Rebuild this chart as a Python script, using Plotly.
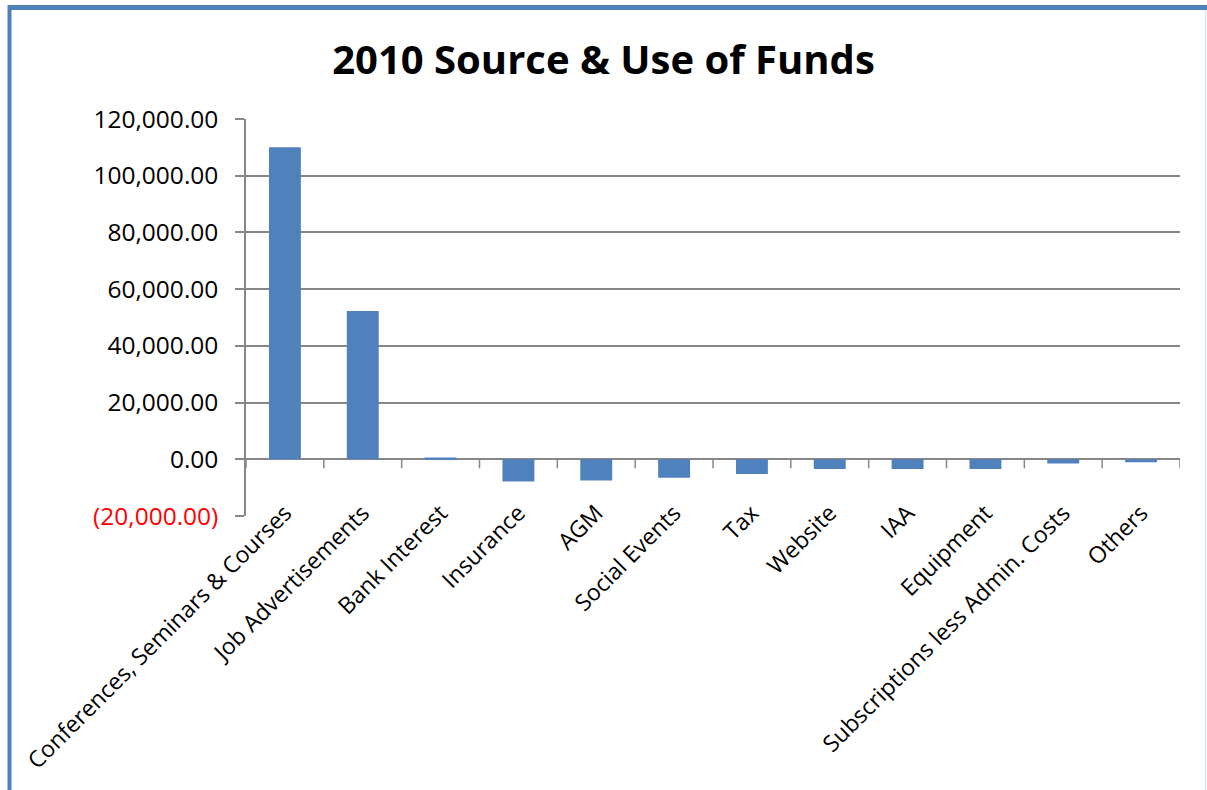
import plotly.graph_objects as go

categories = [
    "Conferences, Seminars & Courses",
    "Job Advertisements",
    "Bank Interest",
    "Insurance",
    "AGM",
    "Social Events",
    "Tax",
    "Website",
    "IAA",
    "Equipment",
    "Subscriptions less Admin. Costs",
    "Others",
]
amounts = [110000, 52300, 600, -7850, -7500, -6550, -5150, -3400, -3400, -3400, -1500, -1050]
y_ticks = [-20000, 0, 20000, 40000, 60000, 80000, 100000, 120000]

BLUE = "#4F81BD"
GRID = "#868686"
FONT = "Open Sans, Liberation Sans, sans-serif"

W, H = 1207, 790
L, R, T, B = 246, 27, 119, 274


def money(v):
    s = f"{abs(v):,.2f}"
    if v < 0:
        return f"<span style='color:#ff0000'>({s})</span>"
    return s


fig = go.Figure(
    go.Bar(
        x=list(range(len(categories))),
        y=amounts,
        marker=dict(color=BLUE, line=dict(width=0)),
        width=0.41,
    )
)


# pixel position -> paper fraction
def px_x(p):
    return (p - L) / (W - L - R)


def px_y(p):
    return (H - B - p) / (H - T - B)


shapes = []
# category tick marks hanging from the zero line
for i in range(len(categories) + 1):
    shapes.append(dict(
        type="line", xref="x", yref="y",
        x0=i - 0.5, x1=i - 0.5, y0=0, y1=-9,
        ysizemode="pixel", yanchor=0,
        line=dict(color=GRID, width=1.5),
    ))

# chart frame
shapes += [
    dict(type="line", xref="paper", yref="paper",
         x0=px_x(9.5), x1=px_x(9.5), y0=px_y(5), y1=px_y(800),
         line=dict(color=BLUE, width=4)),
    dict(type="line", xref="paper", yref="paper",
         x0=px_x(8), x1=px_x(1210), y0=px_y(7.5), y1=px_y(7.5),
         line=dict(color=BLUE, width=5)),
    dict(type="line", xref="paper", yref="paper",
         x0=px_x(1205.5), x1=px_x(1205.5), y0=px_y(10), y1=px_y(800),
         line=dict(color="#dde4ee", width=1.5)),
]

fig.update_layout(
    width=W, height=H,
    margin=dict(l=L, r=R, t=T, b=B),
    paper_bgcolor="white", plot_bgcolor="white",
    showlegend=False,
    bargap=0.59,
    font=dict(family=FONT, color="#000000"),
    title=dict(
        text="<b>2010 Source &amp; Use of Funds</b>",
        x=0.5, xref="container", xanchor="center",
        y=1 - 60 / H, yanchor="middle",
        font=dict(size=40, family=FONT, color="#000000"),
    ),
    shapes=shapes,
)

fig.update_xaxes(
    tickmode="array",
    tickvals=list(range(len(categories))),
    ticktext=categories,
    tickangle=-45,
    range=[-0.5, len(categories) - 0.5],
    showgrid=False, showline=False, zeroline=False,
    ticks="",
    tickfont=dict(size=23, family=FONT, color="#000000"),
    ticklabelstandoff=-22,
)
fig.update_yaxes(
    range=[-20000, 120000],
    tickmode="array",
    tickvals=y_ticks,
    ticktext=[money(v) for v in y_ticks],
    showgrid=True, gridcolor=GRID, gridwidth=1.5,
    zeroline=True, zerolinecolor=GRID, zerolinewidth=1.5,
    showline=True, linecolor=GRID, linewidth=1.5,
    ticks="outside", ticklen=9, tickcolor=GRID, tickwidth=1.5,
    tickfont=dict(size=24.5, family=FONT, color="#000000"),
    ticklabelstandoff=12,
)

fig.write_html("out.html")
